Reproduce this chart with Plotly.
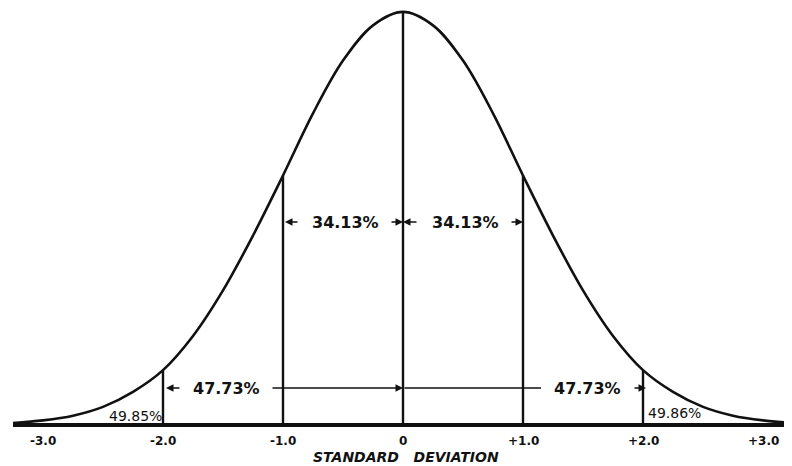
import plotly.graph_objects as go

# ---- data ----
sd_points = [-3.25, -3.0, -2.75, -2.5, -2.25, -2.0, -1.75, -1.5, -1.25, -1.0, -0.75, -0.5, -0.25, 0.0,
             0.25, 0.5, 0.75, 1.0, 1.25, 1.5, 1.75, 2.0, 2.25, 2.5, 2.75, 3.0, 3.25]
density = [0.002, 0.0045, 0.009, 0.0175, 0.032, 0.053, 0.086, 0.130, 0.183, 0.241, 0.301, 0.352, 0.386, 0.399,
           0.386, 0.352, 0.301, 0.241, 0.183, 0.130, 0.086, 0.053, 0.032, 0.0175, 0.009, 0.0045, 0.002]
divider_sd = [-2.0, -1.0, 0.0, 1.0, 2.0]
tick_vals = [-3.0, -2.0, -1.0, 0.0, 1.0, 2.0, 3.0]
tick_text = ["-3.0", "-2.0", "-1.0", "0", "+1.0", "+2.0", "+3.0"]
pct_inner = ["34.13%", "34.13%"]
pct_middle = ["47.73%", "47.73%"]
pct_tail = ["49.85%", "49.86%"]
x_title = "STANDARD\u00a0\u00a0\u00a0DEVIATION"

INK = "#111111"
k = 0.3989 / 413.0  # data units per pixel (vertical)
PX = 120.0           # pixels per SD (horizontal)
OFF = 8              # page body margin


def sd_at(px):
    return (px - 403) / PX


def y_at(py):
    return (425 - py) * k


fig = go.Figure()

# baseline
fig.add_trace(go.Scatter(x=[sd_points[0], sd_at(800)], y=[0, 0], mode="lines",
                         line=dict(color=INK, width=4), hoverinfo="skip"))
# curve
fig.add_trace(go.Scatter(x=sd_points, y=density, mode="lines", line_shape="spline",
                         line=dict(color=INK, width=2.6), hoverinfo="skip"))
# dividers up to the curve
for s in divider_sd:
    top = density[sd_points.index(s)]
    fig.add_trace(go.Scatter(x=[s, s], y=[0, top], mode="lines",
                             line=dict(color=INK, width=2.4), hoverinfo="skip"))

ann = []
# tick labels
for v, t in zip(tick_vals, tick_text):
    ann.append(dict(x=v, y=y_at(441), text=t, showarrow=False,
                    font=dict(family="DejaVu Sans", size=12, color=INK, weight="bold")))
# axis title
ann.append(dict(x=sd_at(406), y=y_at(457), text=x_title, showarrow=False,
                font=dict(family="DejaVu Sans", size=14, color=INK, weight="bold", style="italic")))

big_font = dict(family="DejaVu Sans", size=16, color=INK, weight="bold")
yi = y_at(222)
ym = y_at(388)
# 34.13 % labels
ann.append(dict(x=sd_at(345), y=yi, text=pct_inner[0], showarrow=False, font=big_font))
ann.append(dict(x=sd_at(465), y=yi, text=pct_inner[1], showarrow=False, font=big_font))
# 47.73 % labels
ann.append(dict(x=sd_at(226), y=ym, text=pct_middle[0], showarrow=False, font=big_font))
ann.append(dict(x=sd_at(587), y=ym, text=pct_middle[1], showarrow=False, font=big_font))
# tail labels
small_font = dict(family="DejaVu Sans", size=14, color=INK)
ann.append(dict(x=sd_at(135), y=y_at(416), text=pct_tail[0], showarrow=False, font=small_font))
ann.append(dict(x=sd_at(674), y=y_at(413), text=pct_tail[1], showarrow=False, font=small_font))


def arrow(x_from, x_to, y, head=True):
    ann.append(dict(x=sd_at(x_to), y=y, ax=sd_at(x_from), ay=y, axref="x", ayref="y",
                    xref="x", yref="y", text="", showarrow=True,
                    arrowhead=2 if head else 0, arrowsize=1, arrowwidth=1.5,
                    arrowcolor=INK, standoff=0, startstandoff=0))


arrow(299, 285, yi)
arrow(390, 403, yi)
arrow(418, 403, yi)
arrow(510, 523, yi)
arrow(181, 166, ym)
arrow(271, 403, ym)
arrow(403, 541, ym, head=False)
arrow(633, 646, ym)

fig.update_layout(
    width=792 - OFF, height=466 - OFF,
    margin=dict(l=0, r=0, t=0, b=0),
    paper_bgcolor="white", plot_bgcolor="white",
    showlegend=False,
    annotations=ann,
    xaxis=dict(range=[sd_at(OFF), sd_at(792)], visible=False, fixedrange=True),
    yaxis=dict(range=[y_at(466), y_at(OFF)], visible=False, fixedrange=True),
)

fig.write_html("out.html")
